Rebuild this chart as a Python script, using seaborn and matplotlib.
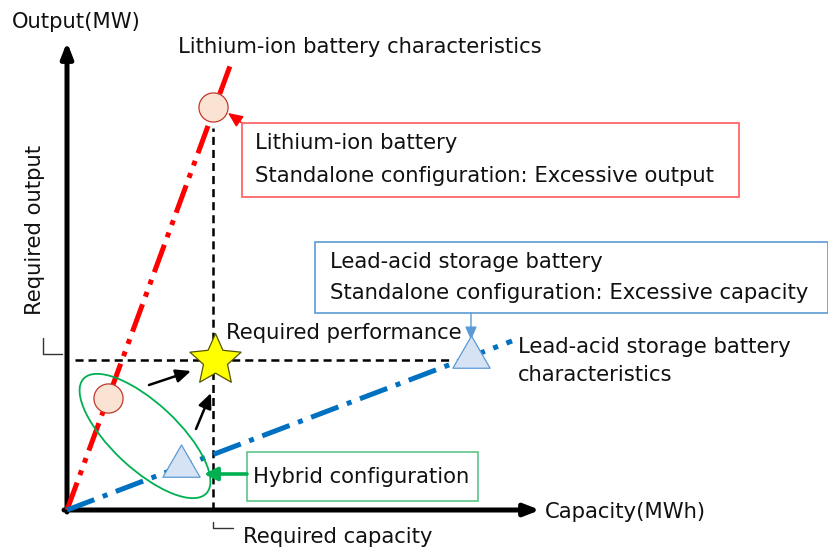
import matplotlib
matplotlib.use("Agg")
import matplotlib.pyplot as plt
import seaborn as sns
import numpy as np
from matplotlib.patches import Ellipse, Rectangle
from matplotlib.path import Path

# Conceptual diagram coordinates: capacity to the right, output upwards (origin at axis corner)
li_capacity = [0, 163]
li_output = [0, 444]
lead_capacity = [0, 445]
lead_output = [0, 169]

required_capacity = 146
required_output = 150

li_marker_capacity = [41, 146]
li_marker_output = [112, 403]
lead_marker_capacity = [114, 404]
lead_marker_output = [44, 153]

axis_labels = ["Capacity(MWh)", "Output(MW)"]
li_label = "Lithium-ion battery characteristics"
lead_label = ["Lead-acid storage battery", "characteristics"]
li_box_text = ["Lithium-ion battery", "Standalone configuration: Excessive output"]
lead_box_text = ["Lead-acid storage battery", "Standalone configuration: Excessive capacity"]
hybrid_text = "Hybrid configuration"
required_texts = ["Required performance", "Required capacity", "Required output"]

# Step 1: theme and canvas
sns.set_theme(style="white")
plt.rcParams["font.family"] = ["DejaVu Sans"]
plt.rcParams["lines.scale_dashes"] = False

fig = plt.figure(figsize=(8.29, 5.5), dpi=100)
ax = fig.add_axes([0, 0, 1, 1])
ax.set_xlim(-67, 762)
ax.set_ylim(-40, 510)
ax.axis("off")

FS = 15.2
TXT = "#111111"

# Step 2: axes arrows
arrow_kw = dict(arrowstyle="-|>,head_length=0.9,head_width=0.35", lw=3.6, color="black",
                shrinkA=0, shrinkB=0, mutation_scale=10)
ax.annotate("", xy=(473, 0), xytext=(-3, 0), arrowprops=arrow_kw)
ax.annotate("", xy=(0, 468), xytext=(0, -2), arrowprops=arrow_kw)

# Step 3: required performance guide lines
ax.plot([8, 383], [required_output, required_output], color="black", lw=1.8, dashes=(5.8, 3.6), zorder=2)
ax.plot([required_capacity, required_capacity], [0, 382], color="black", lw=1.8, dashes=(5.8, 3.6), zorder=2)

# Step 4: battery characteristic lines
sns.lineplot(x=li_capacity, y=li_output, color="#FF0000", linewidth=3.6, ax=ax, zorder=3)
ax.lines[-1].set_dashes((21, 5.8, 3.6, 5.8, 3.6, 5.8))
ax.lines[-1].set_dash_capstyle("butt")
sns.lineplot(x=lead_capacity, y=lead_output, color="#0070C0", linewidth=3.6, ax=ax, zorder=3)
ax.lines[-1].set_dashes((21, 6.5, 3.6, 6.5))
ax.lines[-1].set_dash_capstyle("butt")

# Step 5: hybrid ellipse
ax.add_patch(Ellipse((78, 74), 168, 66, angle=-43, fill=False, edgecolor="#00B050", lw=1.3, zorder=4))

# Step 6: markers
tri = Path([(-1, -0.577), (1, -0.577), (0, 1.155), (-1, -0.577)],
           [Path.MOVETO, Path.LINETO, Path.LINETO, Path.CLOSEPOLY])
ang = np.pi / 2 + np.arange(10) * np.pi / 5
rad = np.where(np.arange(10) % 2 == 0, 1.0, 0.47)
star_verts = np.column_stack([rad * np.cos(ang), rad * np.sin(ang)])
star = Path(np.vstack([star_verts, star_verts[:1]]),
            [Path.MOVETO] + [Path.LINETO] * 9 + [Path.CLOSEPOLY])

sns.scatterplot(x=li_marker_capacity, y=li_marker_output, s=440, marker="o",
                color="#FBE3D4", edgecolor="#C0392B", linewidth=0.9, ax=ax, zorder=5)
sns.scatterplot(x=lead_marker_capacity, y=lead_marker_output, s=960, marker=tri,
                color="#D5E3F4", edgecolor="#5B9BD5", linewidth=0.9, ax=ax, zorder=5)
sns.scatterplot(x=[required_capacity + 2], y=[required_output], s=1500, marker=star,
                color="#FFFF00", edgecolor="#555500", linewidth=0.9, ax=ax, zorder=6)

# Step 7: small pointing arrows
ax.annotate("", xy=(124, 139), xytext=(82, 125),
            arrowprops=dict(arrowstyle="-|>,head_length=0.9,head_width=0.4", lw=1.8,
                            color="black", shrinkA=0, shrinkB=0, mutation_scale=10))
ax.annotate("", xy=(144, 117), xytext=(129, 81),
            arrowprops=dict(arrowstyle="-|>,head_length=0.9,head_width=0.4", lw=1.8,
                            color="black", shrinkA=0, shrinkB=0, mutation_scale=10))
ax.annotate("", xy=(137, 36), xytext=(180, 36),
            arrowprops=dict(arrowstyle="-|>,head_length=0.8,head_width=0.4", lw=2.6,
                            color="#00B050", shrinkA=0, shrinkB=0, mutation_scale=10), zorder=7)
ax.annotate("", xy=(161, 397), xytext=(175, 387),
            arrowprops=dict(arrowstyle="-|>,head_length=0.9,head_width=0.4", lw=1.0,
                            color="#FF0000", shrinkA=0, shrinkB=0, mutation_scale=10))
ax.annotate("", xy=(404, 170), xytext=(404, 197),
            arrowprops=dict(arrowstyle="-|>,head_length=0.8,head_width=0.35", lw=1.0,
                            color="#5B9BD5", shrinkA=0, shrinkB=0, mutation_scale=10))

# Step 8: callout boxes
ax.add_patch(Rectangle((175, 313), 497, 74, fill=False, edgecolor="#FF5A5A", lw=1.2, zorder=4))
ax.add_patch(Rectangle((248, 197), 513, 71, fill=False, edgecolor="#5B9BD5", lw=1.2, zorder=4))
ax.add_patch(Rectangle((180, 9), 231, 49, facecolor="white", edgecolor="#5CC487", lw=1.2, zorder=6))

# Step 9: bracket ticks for required values
ax.plot([-24, -24, -5], [172, 156, 156], color="#333333", lw=1.0)
ax.plot([146, 146, 166], [-12, -18, -18], color="#333333", lw=1.0)

# Step 10: texts
ax.text(478, -2, axis_labels[0], fontsize=FS, color=TXT, ha="left", va="center")
ax.text(-55, 488, axis_labels[1], fontsize=FS, color=TXT, ha="left", va="center")
ax.text(111, 463, li_label, fontsize=FS, color=TXT, ha="left", va="center")
ax.text(188, 367, li_box_text[0], fontsize=FS, color=TXT, ha="left", va="center")
ax.text(188, 334, li_box_text[1], fontsize=FS, color=TXT, ha="left", va="center")
ax.text(263, 248, lead_box_text[0], fontsize=FS, color=TXT, ha="left", va="center")
ax.text(263, 217, lead_box_text[1], fontsize=FS, color=TXT, ha="left", va="center")
ax.text(159, 177, required_texts[0], fontsize=FS, color=TXT, ha="left", va="center", zorder=7)
ax.text(451, 163, lead_label[0], fontsize=FS, color=TXT, ha="left", va="center")
ax.text(451, 135, lead_label[1], fontsize=FS, color=TXT, ha="left", va="center")
ax.text(186, 33, hybrid_text, fontsize=FS, color=TXT, ha="left", va="center", zorder=7)
ax.text(176, -33, required_texts[1], fontsize=FS, color=TXT, ha="left", va="baseline")
ax.text(-32, 280, required_texts[2], fontsize=FS, color=TXT, ha="center", va="center", rotation=90)

fig.savefig("out.png", dpi=100)
